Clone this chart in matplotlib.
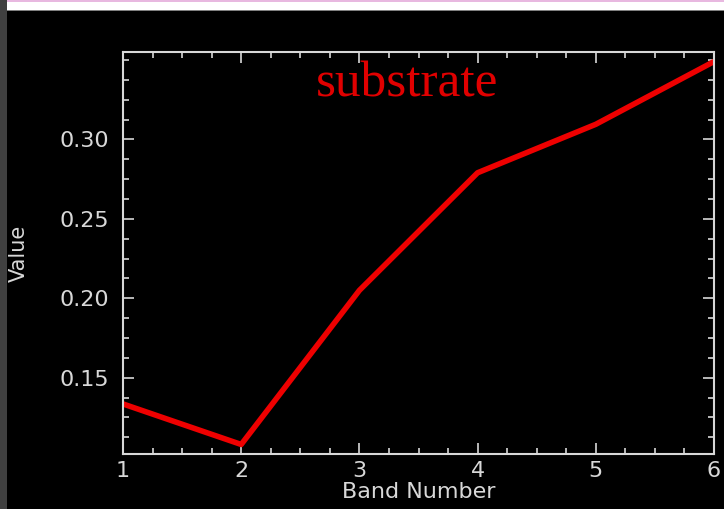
import matplotlib

matplotlib.use("Agg")
import matplotlib.pyplot as plt
from matplotlib.patches import Rectangle
from matplotlib.ticker import MultipleLocator

bands = [1, 2, 3, 4, 5, 6]
values = [0.1335, 0.108, 0.205, 0.279, 0.3095, 0.349]
y_ticks = [0.15, 0.20, 0.25, 0.30]
x_ticks = [1, 2, 3, 4, 5, 6]

FG = "#d8d8d8"
W, H = 724, 509

fig = plt.figure(figsize=(W / 100, H / 100), dpi=100, facecolor="black")

# screenshot borders: white strip on top, dark grey strip on the left
fig.patches.append(Rectangle((0, 1 - 10 / H), 1, 10 / H, transform=fig.transFigure,
                             facecolor="white", edgecolor="none", zorder=0))
fig.patches.append(Rectangle((0, 1 - 11 / H), 1, 1.5 / H, transform=fig.transFigure,
                             facecolor="#808080", edgecolor="none", zorder=0))
fig.patches.append(Rectangle((0, 1 - 1.5 / H), 1, 1.5 / H, transform=fig.transFigure,
                             facecolor="#e8b8e0", edgecolor="none", zorder=0))
fig.patches.append(Rectangle((0, 0), 7 / W, 1, transform=fig.transFigure,
                             facecolor="#404040", edgecolor="none", zorder=1))

ax = fig.add_axes([123 / W, 1 - 454 / H, 591 / W, 402 / H])
ax.set_facecolor("black")
ax.plot(bands, values, color="#ee0000", linewidth=4, solid_capstyle="butt")

ax.set_xlim(1, 6)
ax.set_ylim(0.102, 0.355)
ax.set_xticks(x_ticks)
ax.set_yticks(y_ticks)
ax.set_yticklabels([f"{v:.2f}" for v in y_ticks])
ax.xaxis.set_minor_locator(MultipleLocator(0.25))
ax.yaxis.set_minor_locator(MultipleLocator(0.0125))

for s in ax.spines.values():
    s.set_color(FG)
    s.set_linewidth(1.5)
ax.tick_params(which="both", direction="in", colors=FG, top=True, right=True, width=1.2)
ax.tick_params(which="major", length=8, labelsize=16)
ax.tick_params(axis="y", which="major", pad=10)
ax.tick_params(axis="x", which="major", pad=5)
ax.tick_params(which="minor", length=4)

ax.set_xlabel("Band Number", color=FG, fontsize=16, labelpad=1)
ax.set_ylabel("Value", color=FG, fontsize=15, labelpad=22)

ax.text(0.48, 0.89, "substrate", transform=ax.transAxes, color="#e00000",
        fontsize=37, family="Liberation Serif", ha="center", va="baseline")

fig.savefig("out.png", dpi=100, facecolor="black")
